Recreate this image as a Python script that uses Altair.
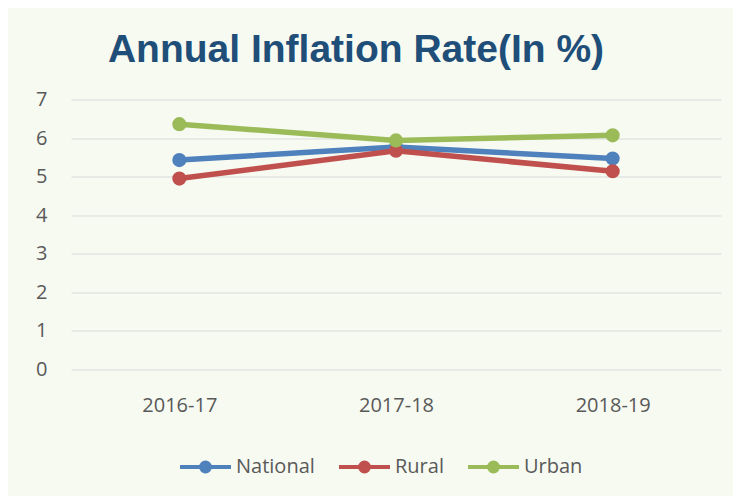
import altair as alt
import pandas as pd

years = ["2016-17", "2017-18", "2018-19"]
series = ["National", "Rural", "Urban"]
national = [5.43, 5.77, 5.47]
rural = [4.95, 5.67, 5.14]
urban = [6.36, 5.94, 6.07]
colors = ["#4F81BD", "#C0504D", "#9BBB59"]
y_ticks = [0, 1, 2, 3, 4, 5, 6, 7]

rows = []
for s, vals in zip(series, [national, rural, urban]):
    for yr, v in zip(years, vals):
        rows.append({"year": yr, "series": s, "value": v})
df = pd.DataFrame(rows)

scale = alt.Scale(domain=series, range=colors)

x = alt.X("year:N", sort=years,
          axis=alt.Axis(title=None, labelAngle=0, ticks=False, domain=False, grid=False,
                        labelPadding=26, labelFontSize=20, labelColor="#595959",
                        labelFont="Open Sans"))
y = alt.Y("value:Q", scale=alt.Scale(domain=[0, 7], nice=False),
          axis=alt.Axis(title=None, values=y_ticks, ticks=False, domain=False,
                        labelPadding=24, minExtent=40, maxExtent=40,
                        labelFontSize=20, labelColor="#595959", labelFont="Open Sans",
                        gridColor="#D9D9D9", gridWidth=1))

sym = ("M-1,0H1"
       "M0.176,0A0.176,0.176,0,1,1,-0.176,0A0.176,0.176,0,1,1,0.176,0"
       "M0.098,0A0.098,0.098,0,1,1,-0.098,0A0.098,0.098,0,1,1,0.098,0"
       "M0.02,0A0.02,0.02,0,1,1,-0.02,0A0.02,0.02,0,1,1,0.02,0")

leg = alt.Legend(title=None, orient="none", direction="horizontal",
                 legendX=107, legendY=340,
                 symbolType=sym,
                 symbolSize=2601, symbolStrokeWidth=4, labelOffset=3, columnPadding=16,
                 labelFontSize=20, labelColor="#595959", labelFont="Open Sans")

lines = alt.Chart(df).mark_line(strokeWidth=5.5).encode(
    x=x, y=y,
    color=alt.Color("series:N", scale=scale, legend=leg),
)
points = alt.Chart(df).mark_circle(size=200, opacity=1).encode(
    x=x, y=y,
    fill=alt.Fill("series:N", scale=scale, legend=None),
)

chart = alt.layer(lines, points).properties(
    width=650, height=270,
    title=alt.Title("Annual Inflation Rate(In %)", fontSize=39, font="Liberation Sans",
                    fontWeight="bold", color="#1F4E79", anchor="middle", dx=-40, offset=20),
    autosize=alt.AutoSizeParams(type="none"),
    padding={"left": 63, "top": 91.5, "right": 12, "bottom": 126.5},
    background="#F7FAF1",
).configure_view(stroke=None)

chart.save("out.html", embed_options={"renderer": "svg", "actions": False})
